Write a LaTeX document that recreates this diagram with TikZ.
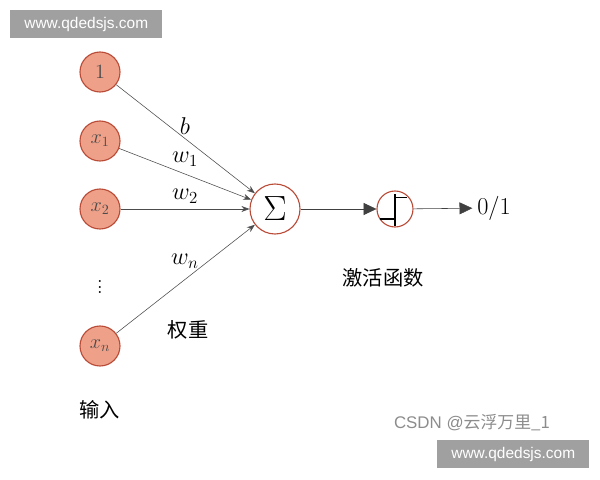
\documentclass[tikz,border=0pt]{standalone}
\usepackage{fontspec}
\newfontfamily\cjk{Noto Sans CJK SC}
\newfontfamily\wmfont{Liberation Sans}
\usetikzlibrary{arrows.meta}
\definecolor{nodefill}{RGB}{238,160,136}
\definecolor{nodeline}{RGB}{185,75,55}
\definecolor{wmgray}{RGB}{160,160,160}

\begin{document}
\begin{tikzpicture}[x=0.025cm,y=-0.025cm,
    input/.style={circle, draw=nodeline, fill=nodefill, thick, minimum size=1.0cm, inner sep=0pt, font=\Large, text=black!70},
    unit/.style={circle, draw=nodeline, thick, minimum size=1.25cm, inner sep=0pt},
    wire/.style={draw=black!70, -{Stealth[length=2mm]}},
    bigwire/.style={draw=black!75, -{Triangle[length=3.2mm,width=3mm]}},
    wmark/.style={fill=wmgray, text=white, font=\wmfont\fontsize{11}{13}\selectfont, inner sep=0pt, minimum width=3.8cm, minimum height=0.7cm}]
    \useasboundingbox (0,0) rectangle (600,480);

    % inputs
    \node[input] (one) at (100,72) {$1$};
    \node[input] (x1) at (100,141) {$x_1$};
    \node[input] (x2) at (100,209) {$x_2$};
    \node[font=\LARGE, inner sep=0pt] (dots) at (100,283) {$\vdots$};
    \node[input] (xn) at (100,346) {$x_n$};

    % summing and activation
    \node[unit, font=\Huge] (sum) at (275,209) {$\Sigma$};
    \node[circle, draw=nodeline, thick, minimum size=0.9cm] (act) at (395,209) {};
    \draw[thick] ([yshift=-0.42cm]act.center) -- ([yshift=0.38cm]act.center);
    \draw[thick] ([xshift=-0.38cm,yshift=-0.25cm]act.center) -- ([yshift=-0.25cm]act.center);
    \draw[thick] ([yshift=0.28cm]act.center) -- ([xshift=0.3cm,yshift=0.28cm]act.center);
    \node[font=\LARGE] (out) at (494,208) {$0/1$};

    \draw[wire] (one) -- (sum);
    \draw[wire] (x1) -- (sum);
    \draw[wire] (x2) -- (sum);
    \draw[wire] (xn) -- (sum);
    \draw[bigwire] (sum) -- (act);
    \draw[bigwire] (act) -- (out);

    % labels
    \node[font=\LARGE] at (185,126) {$b$};
    \node[font=\LARGE] at (185,159) {$w_1$};
    \node[font=\LARGE] at (185,196) {$w_2$};
    \node[font=\LARGE] at (185,261) {$w_n$};
    \node[font=\cjk\Large] (weight) at (188,330) {权重};
    \node[font=\cjk\Large] (actlabel) at (383,278) {激活函数};
    \node[font=\cjk\Large] (inlabel) at (100,410) {输入};

    % watermarks
    \node[font=\wmfont\fontsize{12}{14}\selectfont, text=black!45] (csdn) at (472,423) {CSDN @\cjk 云浮万里\_1};
    \node[wmark, anchor=north west] (wmtop) at (10,10) {www.qdedsjs.com};
    \node[wmark, anchor=north west] (wmbot) at (437,440) {www.qdedsjs.com};
\end{tikzpicture}
\end{document}
